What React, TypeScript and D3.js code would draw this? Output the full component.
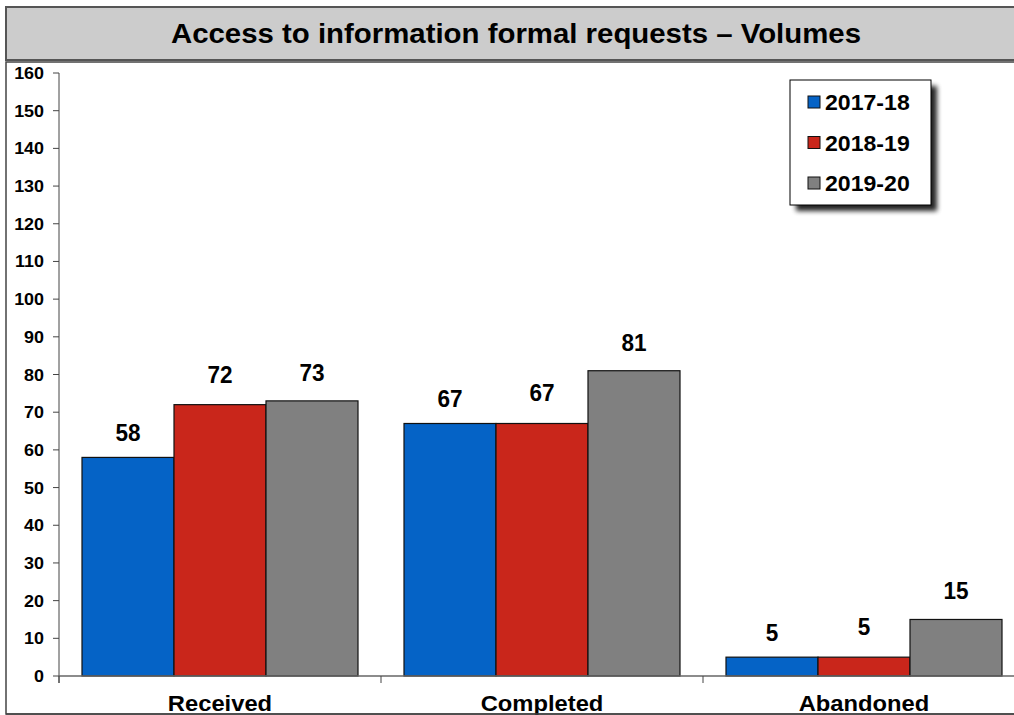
import React from "react";
import * as d3 from "d3";

// Request volumes by category and financial year
const categories = ["Received", "Completed", "Abandoned"];
const seriesNames = ["2017-18", "2018-19", "2019-20"];
const values2017 = [58, 67, 5];
const values2018 = [72, 67, 5];
const values2019 = [73, 81, 15];
const yTicks = [0, 10, 20, 30, 40, 50, 60, 70, 80, 90, 100, 110, 120, 130, 140, 150, 160];

const colors = ["#0563C6", "#C9261B", "#808080"];
const labelGap = [16, 22, 20];
const FONT = "Arial, 'Liberation Sans', sans-serif";

// Bold text with a slight horizontal stretch
function Label(props: {
  x: number;
  y: number;
  size: number;
  sx?: number;
  anchor?: "start" | "middle" | "end";
  children: React.ReactNode;
}) {
  const { x, y, size, sx = 1, anchor = "middle", children } = props;
  return (
    <text
      transform={`translate(${x},${y}) scale(${sx},1)`}
      textAnchor={anchor}
      fontSize={size}
      fontWeight="bold"
      fill="#000"
    >
      {children}
    </text>
  );
}

export default function App() {
  const W = 1014;
  const H = 715;
  const plotLeft = 59;
  const plotRight = 1025;
  const plotTop = 73;
  const plotBottom = 676;

  const seriesValues = [values2017, values2018, values2019];

  const x0 = d3.scaleBand<string>().domain(categories).range([plotLeft, plotRight]).padding(0);
  const inner = 23;
  const x1 = d3
    .scaleBand<string>()
    .domain(seriesNames)
    .range([inner, x0.bandwidth() - inner])
    .padding(0);
  const y = d3.scaleLinear().domain([0, 160]).range([plotBottom, plotTop]);

  const boundaries = [...categories.map((c) => x0(c) as number), plotRight];

  return (
    <svg
      width={W}
      height={H}
      style={{ position: "absolute", left: 0, top: 0, background: "#fff" }}
      fontFamily={FONT}
    >
      <defs>
        <filter id="legendShadow" x="-20%" y="-20%" width="150%" height="150%">
          <feGaussianBlur stdDeviation="2.5" />
        </filter>
      </defs>

      {/* Title banner */}
      <rect x={6} y={7} width={1030} height={53} fill="#CCCCCC" stroke="#555" strokeWidth={2} />
      <Label x={516} y={43} size={28} sx={1.05}>
        Access to information formal requests – Volumes
      </Label>

      {/* Chart frame */}
      <rect x={6} y={62} width={1030} height={652} fill="#fff" stroke="#444" strokeWidth={1.5} />

      {/* Y axis */}
      <line x1={plotLeft} x2={plotLeft} y1={plotTop} y2={plotBottom + 7} stroke="#444" strokeWidth={1} />
      {yTicks.map((t) => (
        <g key={t}>
          <line x1={plotLeft - 6} x2={plotLeft} y1={y(t)} y2={y(t)} stroke="#444" strokeWidth={1} />
          <Label x={44} y={y(t) + 6} size={16} sx={1.12} anchor="end">
            {t}
          </Label>
        </g>
      ))}

      {/* Bars */}
      {seriesValues.map((vals, si) =>
        categories.map((c, ci) => {
          const bx = (x0(c) as number) + (x1(seriesNames[si]) as number);
          const by = y(vals[ci]);
          return (
            <rect
              key={`${si}-${ci}`}
              x={bx}
              y={by}
              width={x1.bandwidth()}
              height={plotBottom - by}
              fill={colors[si]}
              stroke="#111"
              strokeWidth={1.2}
            />
          );
        })
      )}

      {/* X axis */}
      <line x1={plotLeft} x2={plotRight} y1={plotBottom} y2={plotBottom} stroke="#666" strokeWidth={1.5} />
      {boundaries.map((b, i) => (
        <line key={i} x1={b} x2={b} y1={plotBottom} y2={plotBottom + 7} stroke="#444" strokeWidth={1} />
      ))}

      {/* Value labels */}
      {seriesValues.map((vals, si) =>
        categories.map((c, ci) => {
          const cx = (x0(c) as number) + (x1(seriesNames[si]) as number) + x1.bandwidth() / 2;
          return (
            <Label key={`l-${si}-${ci}`} x={cx} y={y(vals[ci]) - labelGap[si]} size={23} sx={0.98}>
              {vals[ci]}
            </Label>
          );
        })
      )}

      {/* Category labels */}
      {categories.map((c) => (
        <Label key={c} x={(x0(c) as number) + x0.bandwidth() / 2} y={711} size={22} sx={1.08}>
          {c}
        </Label>
      ))}
      <line x1={6} x2={1030} y1={714} y2={714} stroke="#444" strokeWidth={1.5} />

      {/* Legend */}
      <g>
        <rect x={796} y={86} width={141} height={125} fill="#000" opacity={0.85} filter="url(#legendShadow)" />
        <rect x={790} y={80} width={141} height={125} fill="#fff" stroke="#000" strokeWidth={1} />
        {seriesNames.map((s, i) => {
          const cy = 102 + i * 40.5;
          return (
            <g key={s}>
              <rect x={808} y={cy - 6} width={12} height={12} fill={colors[i]} stroke="#111" strokeWidth={1} />
              <Label x={825} y={cy + 8} size={22} sx={1.05} anchor="start">
                {s}
              </Label>
            </g>
          );
        })}
      </g>
    </svg>
  );
}
